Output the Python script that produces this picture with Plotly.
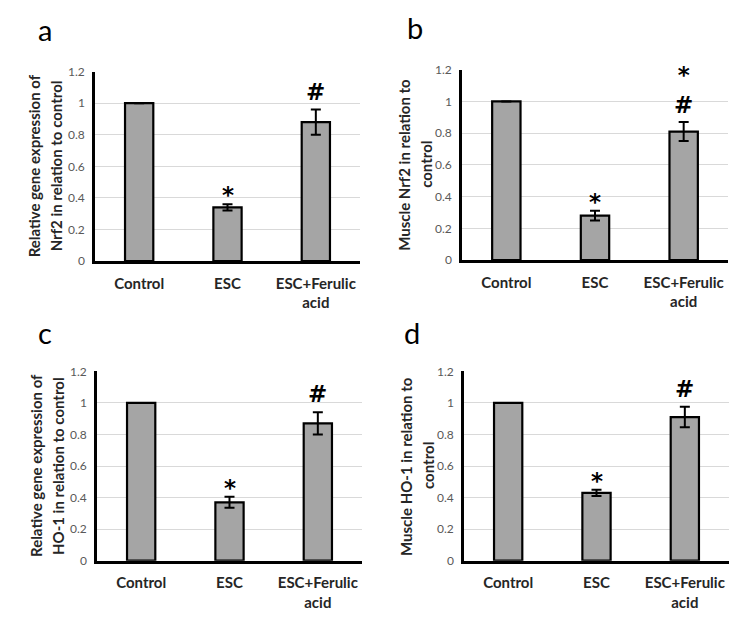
import plotly.graph_objects as go

categories = ["Control", "ESC", "ESC+Ferulic<br>acid"]

a_values = [1.0, 0.34, 0.88]
a_errors = [0, 0.02, 0.08]
a_marks = [[], ["*"], ["#"]]

b_values = [1.0, 0.28, 0.81]
b_errors = [0, 0.03, 0.06]
b_marks = [[], ["*"], ["*", "#"]]

c_values = [1.0, 0.37, 0.87]
c_errors = [0, 0.035, 0.07]
c_marks = [[], ["*"], ["#"]]

d_values = [1.0, 0.43, 0.91]
d_errors = [0, 0.02, 0.065]
d_marks = [[], ["*"], ["#"]]

panel_letters = ["a", "b", "c", "d"]
y_titles = [
    ["Relative gene expression of", "Nrf2 in relation to control"],
    ["Muscle Nrf2 in relation to", "control"],
    ["Relative gene expression of", "HO-1 in relation to control"],
    ["Muscle HO-1 in relation to", "control"],
]
y_ticks = [0, 0.2, 0.4, 0.6, 0.8, 1, 1.2]

W, H = 750, 629
PAD = 8  # default page body margin
# pixel boxes of plot areas in the page: (left, right, top, bottom)
boxes = [(95, 360, 65, 259), (462, 728, 63, 258), (97, 362, 372, 566), (464, 729, 372, 566)]
letter_pos = [(45, 22), (415, 20), (45, 332), (412, 332)]
title_x = [(34, 56), (404, 426), (36, 58), (406, 428)]


def px(x):
    return (x - PAD) / W


def py(y):
    return 1 - (y - PAD) / H


panels = [(a_values, a_errors, a_marks), (b_values, b_errors, b_marks),
          (c_values, c_errors, c_marks), (d_values, d_errors, d_marks)]

fig = go.Figure()
annotations = []
FONT = "Lato, 'Open Sans', sans-serif"
SYM_FONT = "'DejaVu Sans', sans-serif"
SHIFT = {"*": 9, "#": 18}

for i, ((vals, errs, marks), box) in enumerate(zip(panels, boxes)):
    n = "" if i == 0 else str(i + 1)
    xa, ya = "x" + n, "y" + n
    fig.add_trace(go.Bar(
        x=categories, y=vals, width=0.32,
        marker=dict(color="#A5A5A5", line=dict(color="black", width=2.2)),
        error_y=dict(type="data", array=errs, color="black", thickness=2, width=5,
                     visible=True),
        xaxis=xa, yaxis=ya, showlegend=False, hoverinfo="skip",
    ))
    l, r, t, b = box
    fig.layout["xaxis" + n] = dict(
        domain=[px(l), px(r)], anchor=ya, showline=True, linecolor="black", linewidth=2.5,
        showgrid=False, ticks="", ticklabelstandoff=7, fixedrange=True,
        tickfont=dict(family=FONT, size=15, color="#262626", weight="bold"),
    )
    fig.layout["yaxis" + n] = dict(
        domain=[py(b), py(t)], anchor=xa, range=[0, 1.2], tickvals=y_ticks,
        showline=True, linecolor="black", linewidth=2.5, showgrid=True,
        gridcolor="#D9D9D9", gridwidth=1, zeroline=False, ticks="", ticklabelstandoff=5,
        tickfont=dict(family=FONT, size=12, color="#595959"),
    )
    # significance marks (stacked top to bottom)
    for cat, v, e, m in zip(categories, vals, errs, marks):
        if not m:
            continue
        shift = SHIFT[m[0]] if len(m) == 1 else 32
        annotations.append(dict(
            x=cat, y=v + e, xref=xa, yref=ya, text="<br>".join(m),
            showarrow=False, yanchor="middle", yshift=shift,
            font=dict(family=SYM_FONT, size=23, color="black", weight="bold"),
        ))
    # panel letter
    lx, ly = letter_pos[i]
    annotations.append(dict(x=px(lx), y=py(ly), xref="paper", yref="paper",
                            text=panel_letters[i], showarrow=False,
                            xanchor="center", yanchor="middle",
                            font=dict(family=FONT, size=29, color="black")))
    # y titles
    cy = py((t + b) / 2)
    for line, tx in zip(y_titles[i], title_x[i]):
        annotations.append(dict(x=px(tx), y=cy, xref="paper", yref="paper",
                                text="<b>" + line + "</b>", textangle=-90, showarrow=False,
                                xanchor="center", yanchor="middle",
                                font=dict(family=FONT, size=15, color="#262626")))

fig.update_layout(
    width=W, height=H, margin=dict(l=0, r=0, t=0, b=0),
    paper_bgcolor="white", plot_bgcolor="white", annotations=annotations,
    bargap=0.68,
)
fig.write_html("out.html")
